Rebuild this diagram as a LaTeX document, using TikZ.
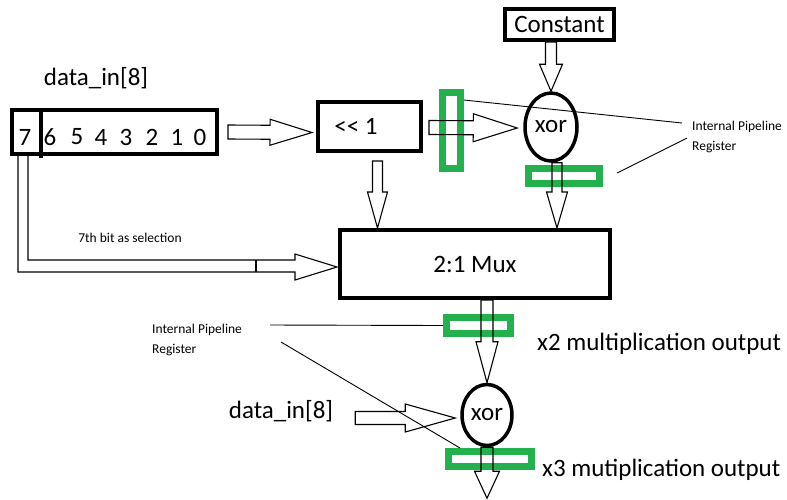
\documentclass[tikz,border=0pt]{standalone}
\usepackage{fontspec}
\setmainfont{Carlito}
\usetikzlibrary{calc,shapes.geometric}
\definecolor{pgreen}{RGB}{34,177,76}
\newcommand{\barrow}[5]{%
  \coordinate (ba-h) at ($(#2)!#5pt!(#1)$);
  \draw[arr] ($(#1)!#3pt!90:(#2)$) -- ($(ba-h)!#3pt!90:(#2)$) -- ($(ba-h)!#4pt!90:(#2)$) -- (#2)
    -- ($(ba-h)!#4pt!-90:(#2)$) -- ($(ba-h)!#3pt!-90:(#2)$) -- ($(#1)!#3pt!-90:(#2)$) -- cycle;
}
\begin{document}
\begin{tikzpicture}[x=1pt,y=-1pt,
  box/.style={draw, line width=4pt, inner sep=0pt},
  gate/.style={draw, ellipse, line width=3.5pt, inner sep=0pt},
  greg/.style={draw=pgreen, line width=7pt, inner sep=0pt},
  arr/.style={line width=1.1pt, line join=miter},
  thin/.style={line width=0.9pt},
  big/.style={font=\fontsize{25}{30}\selectfont, inner sep=0pt},
  small/.style={font=\fontsize{13.5}{20}\selectfont, align=left, inner sep=2pt}]
\useasboundingbox (0,0) rectangle (787,499);

% blocks
\node[box, minimum width=205pt, minimum height=44pt] (data) at (114.5,132) {};
\draw[line width=4pt] ($(data.north west)+(31,0)$) -- ($(data.south west)+(31,2)$);
\foreach \d/\x in {7/25,6/50,5/77,4/101,3/126,2/152,1/177,0/200}
  \node[big] (b\d) at (\x,137) {\d};
\node[big] (datain1) at (96,78) {data\_in[8]};

\node[box, minimum width=103pt, minimum height=49pt] (shift) at (369.5,126.5) {};
\node[big] (shifttxt) at (356,126) {<{}< 1};

\node[box, minimum width=109pt, minimum height=31pt, font=\fontsize{25}{30}\selectfont] (constant) at (559.5,24.5) {Constant};
\node[gate, minimum width=52pt, minimum height=68pt, font=\fontsize{25}{30}\selectfont] (xor1) at (551,127) {xor};
\node[box, minimum width=270pt, minimum height=68pt, font=\fontsize{25}{30}\selectfont] (mux) at (475,264) {2:1 Mux};
\node[gate, minimum width=50pt, minimum height=61pt, font=\fontsize{25}{30}\selectfont] (xor2) at (487,415) {xor};

% pipeline registers
\node[greg, minimum width=18pt, minimum height=76pt] (g1) at (451.5,130.5) {};
\node[greg, minimum width=71pt, minimum height=15pt] (g2) at (564,176) {};
\node[greg, minimum width=64pt, minimum height=16pt] (g3) at (478.5,325.5) {};
\node[greg, minimum width=83pt, minimum height=15pt] (g4) at (490,459) {};

% texts
\node[small, anchor=west] (ipr1) at (690,137) {Internal Pipeline\\Register};
\node[small, anchor=west] (ipr2) at (150,340) {Internal Pipeline\\Register};
\node[small] (seltxt) at (130,238) {7th bit as selection};
\node[big] (datain2) at (281,411) {data\_in[8]};
\node[big, anchor=west] (x2out) at (537,344) {x2 multiplication output};
\node[big, anchor=west] (x3out) at (542,470) {x3 mutiplication output};

% block arrows
\coordinate (a1s) at ($(data.east)+(9,0)$);
\coordinate (a1t) at ($(shift.west)+(-4,6)$);
\barrow{a1s}{a1t}{7}{13}{42}
\coordinate (a2s) at ($(shift.east)+(6,1)$);
\coordinate (a2t) at ($(xor1.west)+(-6,1)$);
\barrow{a2s}{a2t}{7}{14}{44}
\coordinate (a3s) at (xor1.north |- constant.south);
\coordinate (a3t) at (xor1.north);
\barrow{a3s}{a3t}{5.5}{11.5}{27}
\coordinate (a4s) at ($(shift.south)+(8,8)$);
\coordinate (a4t) at (a4s |- mux.north);
\barrow{a4s}{a4t}{5}{10}{36}
\coordinate (a5s) at ($(xor1.south)+(6,0)$);
\coordinate (a5t) at (a5s |- mux.north);
\barrow{a5s}{a5t}{5}{10.5}{36}
\coordinate (a6s) at (xor2.north |- mux.south);
\coordinate (a6t) at (xor2.north);
\barrow{a6s}{a6t}{6}{11}{41}
\coordinate (a7t) at ($(xor2.west)+(-5,3)$);
\coordinate (a7s) at ($(a7t)+(-100,0)$);
\barrow{a7s}{a7t}{6.5}{14}{50}
\coordinate (a8s) at (xor2.south);
\coordinate (a8t) at ($(xor2.south)+(0,51)$);
\barrow{a8s}{a8t}{6}{12.5}{27}

% selection arrow (bit 7 to mux)
\coordinate (s0) at ($(data.south west)+(8,0)$);
\coordinate (s1) at ($(s0)+(10,0)$);
\coordinate (seltip) at ($(mux.west)+(-1,3)$);
\coordinate (selbot) at ($(seltip)+(0,5)$);
\coordinate (seltop) at ($(seltip)+(0,-7)$);
\coordinate (selhead) at ($(seltip)+(-42,0)$);
\draw[arr] (s0) -- (s0 |- selbot) -- (selhead |- selbot) -- ($(selhead)+(0,13)$) -- (seltip)
  -- ($(selhead)+(0,-13)$) -- (selhead |- seltop) -- (s1 |- seltop) -- (s1);
\draw[arr] ($(selhead |- seltop)+(-39,0)$) -- ($(selhead |- selbot)+(-39,0)$);

% pointer lines
\draw[thin] ($(g1.north east)+(0,11)$) -- ($(ipr1.west)+(-8,-14)$);
\draw[thin] ($(g2.east)+(14,-3)$) -- ($(ipr1.west)+(-3,1)$);
\draw[thin] ($(ipr2.west)+(120,-15)$) -- (g3.west);
\draw[thin] ($(ipr2.west)+(131,2)$) -- ($(g4.north west)+(15,0)$);
\end{tikzpicture}
\end{document}
